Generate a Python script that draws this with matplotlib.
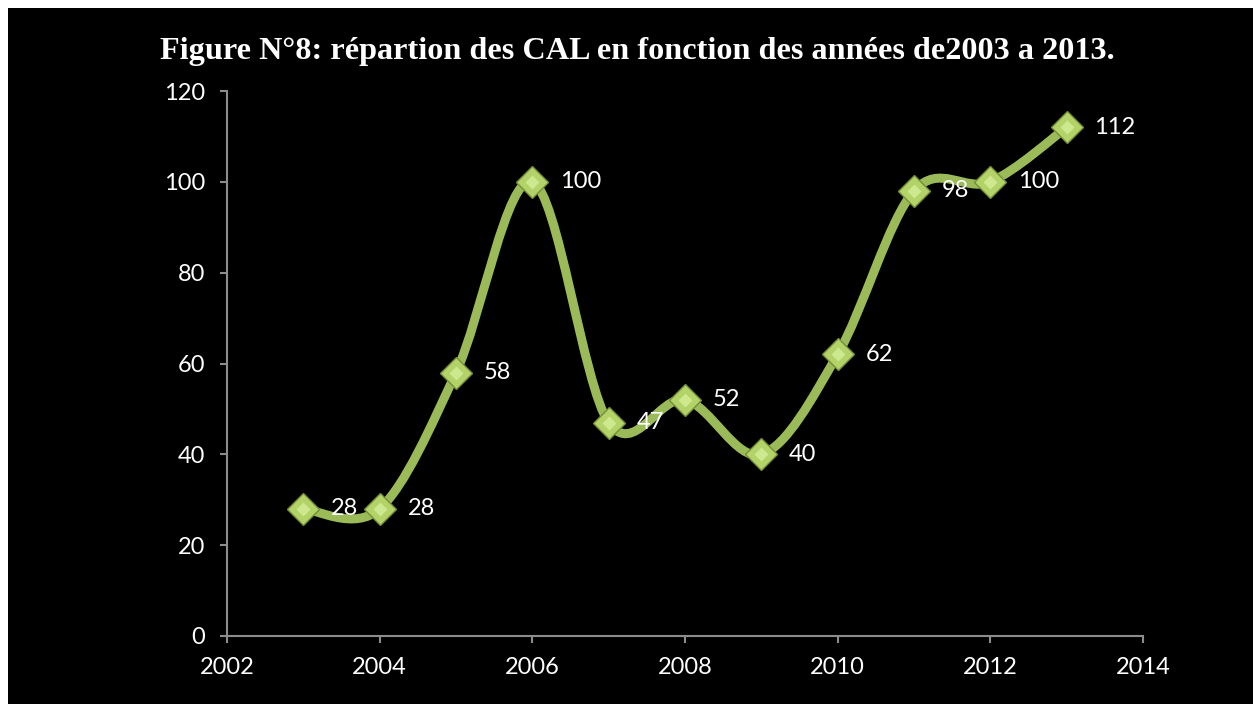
import matplotlib
matplotlib.use("Agg")
import matplotlib.pyplot as plt
from matplotlib.path import Path
from matplotlib.patches import PathPatch, Rectangle

years = [2003, 2004, 2005, 2006, 2007, 2008, 2009, 2010, 2011, 2012, 2013]
counts = [28, 28, 58, 100, 47, 52, 40, 62, 98, 100, 112]
title = "Figure N°8: répartion des CAL en fonction des années de2003 a 2013."
xticks = [2002, 2004, 2006, 2008, 2010, 2012, 2014]
yticks = [0, 20, 40, 60, 80, 100, 120]

W, H = 1253, 704
fig = plt.figure(figsize=(W / 100, H / 100), dpi=100)
fig.patch.set_facecolor("white")
fig.patches.append(Rectangle((8 / W, 0), 1, 1 - 8 / H, transform=fig.transFigure,
                             facecolor="black", edgecolor="none", zorder=-5))

ax = fig.add_axes([227 / W, 1 - 636 / H, (1143 - 227) / W, (636 - 91) / H])
ax.set_zorder(2)
ax.set_facecolor("black")
ax.patch.set_alpha(0)

# Excel-style smoothed line (cubic Bezier through the points)
n = len(years)
verts = [(years[0], counts[0])]
codes = [Path.MOVETO]
for i in range(n - 1):
    p0 = (years[i - 1], counts[i - 1]) if i > 0 else (years[i], counts[i])
    p1 = (years[i], counts[i])
    p2 = (years[i + 1], counts[i + 1])
    p3 = (years[i + 2], counts[i + 2]) if i + 2 < n else p2
    c1 = (p1[0] + (p2[0] - p0[0]) / 6, p1[1] + (p2[1] - p0[1]) / 6)
    c2 = (p2[0] - (p3[0] - p1[0]) / 6, p2[1] - (p3[1] - p1[1]) / 6)
    verts += [c1, c2, p2]
    codes += [Path.CURVE4] * 3
ax.add_patch(PathPatch(Path(verts, codes), facecolor="none", edgecolor="#9BBB59",
                       linewidth=6.5, capstyle="round", joinstyle="round", zorder=2))

ax.plot(years, counts, linestyle="none", marker="D", markersize=16,
        markerfacecolor="#B3D268", markeredgecolor="#738F38", markeredgewidth=1.0, zorder=3)
ax.plot(years, counts, linestyle="none", marker="D", markersize=7,
        markerfacecolor="#CDE88E", markeredgecolor="none", zorder=4)

for x, y in zip(years, counts):
    ax.annotate(str(y), (x, y), xytext=(20, 0), textcoords="offset points",
                ha="left", va="center", color="white", fontsize=17, family="Lato", zorder=5)

ax.set_xlim(2002, 2014)
ax.set_ylim(0, 120)
ax.set_xticks(xticks)
ax.set_yticks(yticks)
ax.set_xticklabels([str(t) for t in xticks])
ax.set_yticklabels([str(t) for t in yticks])
for s in ["top", "right"]:
    ax.spines[s].set_visible(False)
for s in ["left", "bottom"]:
    ax.spines[s].set_color("#8C8C8C")
    ax.spines[s].set_linewidth(1.5)
ax.tick_params(axis="both", colors="#8C8C8C", length=5, width=1.5, direction="out",
               labelcolor="white", labelsize=17, pad=11)
ax.tick_params(axis="x", pad=10)
for lab in ax.get_xticklabels() + ax.get_yticklabels():
    lab.set_family("Lato")

fig.text(637 / W, 1 - 52 / H, title, ha="center", va="center", color="white",
         fontsize=23.2, fontweight="bold", family="Liberation Serif")

fig.savefig("out.png", dpi=100, facecolor=fig.get_facecolor())
